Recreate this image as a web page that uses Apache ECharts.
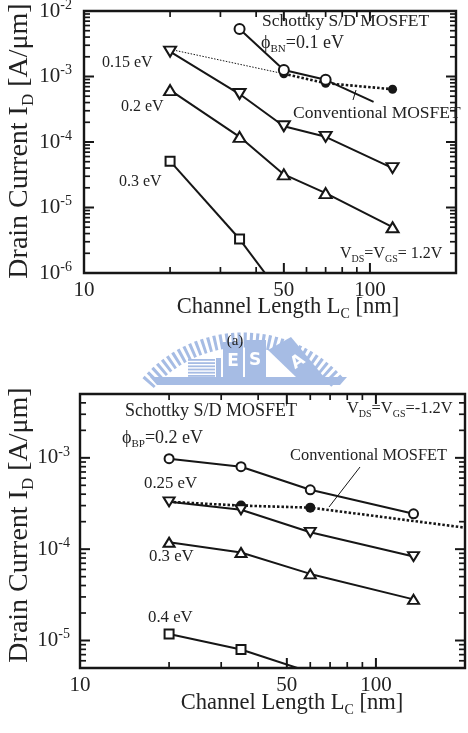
<!DOCTYPE html>
<html><head><meta charset="utf-8">
<script src="https://cdn.jsdelivr.net/npm/echarts@6/dist/echarts.min.js"></script>
<style>html,body{margin:0;padding:0;background:#fff}#c{width:468px;height:733px}</style>
</head><body><div id="c"></div>
<script>
const FONT = '"Liberation Serif","Times New Roman",serif';
const INK = '#161616';
const TXT = '#222';

// ---------- shared x axis (Channel Length, nm, log) ----------
const xLabelValues = [10, 50, 100];
const xMajorTicks = [50, 100];
const xMinorTicks = [20, 30, 40, 60, 70, 80, 90];

// ---------- (a) top chart: n-type, I_D vs L_C ----------
const topYLabelValues = [1e-6, 1e-5, 1e-4, 1e-3, 1e-2];
const topN010 = [[35, 5.3e-3], [50, 1.26e-3], [70, 8.9e-4]];
const topN010Ext = [[70, 8.9e-4], [103, 4.1e-4]];
const topN015 = [[20, 2.4e-3], [35, 5.4e-4], [50, 1.74e-4], [70, 1.2e-4], [120, 4.0e-5]];
const topN020 = [[20, 6.2e-4], [35, 1.2e-4], [50, 3.2e-5], [70, 1.66e-5], [120, 5.0e-6]];
const topN030 = [[20, 5.1e-5], [35, 3.3e-6]];
const topN030Ext = [[35, 3.3e-6], [50, 4.1e-7]];
const topConvThin = [[20, 2.6e-3], [50, 1.1e-3]];
const topConv = [[50, 1.1e-3], [70, 7.9e-4], [120, 6.4e-4]];

// ---------- bottom chart: p-type ----------
const botYLabelValues = [1e-5, 1e-4, 1e-3];
const botP020 = [[20, 9.8e-4], [35, 8.0e-4], [60, 4.47e-4], [134, 2.44e-4]];
const botP025 = [[20, 3.3e-4], [35, 2.7e-4], [60, 1.53e-4], [134, 8.3e-5]];
const botP030 = [[20, 1.19e-4], [35, 9.2e-5], [60, 5.36e-5], [134, 2.82e-5]];
const botP040 = [[20, 1.18e-5], [35, 7.97e-6]];
const botP040Ext = [[35, 7.97e-6], [60, 4.5e-6]];
const botConvLine = [[20, 3.3e-4], [35, 3.0e-4], [60, 2.85e-4], [200, 1.72e-4]];
const botConvMarked = [[35, 3.0e-4], [60, 2.85e-4]];

const GRIDS = [
  { xMin: 10, xMax: 200, yMin: 1e-6, yMax: 1e-2, yLabels: topYLabelValues, left: 84, top: 11, width: 372, height: 262 },
  { xMin: 10, xMax: 200, yMin: 5e-6, yMax: 5e-3, yLabels: botYLabelValues, left: 80, top: 394, width: 385, height: 274 }
];

function minorDecades(lo, hi) {
  const out = [];
  for (let d = -7; d <= -1; d++) for (let m = 2; m <= 9; m++) {
    const v = m * Math.pow(10, d);
    if (v > lo * 1.0001 && v < hi * 0.9999) out.push(v);
  }
  return out;
}

const supFmt = v => '{b|10}{s|' + Math.round(Math.log10(v)) + '}';

function xAxis(gi, lm) {
  const g = GRIDS[gi];
  return { gridIndex: gi, type: 'log', logBase: 10, min: g.xMin, max: g.xMax, position: 'bottom',
    splitLine: { show: false }, minorTick: { show: false }, axisTick: { show: false },
    axisLine: { show: false, onZero: false },
    axisLabel: { show: true, customValues: xLabelValues, margin: lm, fontSize: 21, fontFamily: FONT, color: TXT } };
}
function yAxis(gi, lm) {
  const g = GRIDS[gi];
  return { gridIndex: gi, type: 'log', logBase: 10, min: g.yMin, max: g.yMax, position: 'left',
    splitLine: { show: false }, minorTick: { show: false }, axisTick: { show: false },
    axisLine: { show: false, onZero: false },
    axisLabel: { show: true, customValues: g.yLabels, margin: lm, formatter: supFmt,
      rich: { b: { fontSize: 21, fontFamily: FONT, color: TXT, lineHeight: 26 },
              s: { fontSize: 14, fontFamily: FONT, color: TXT, lineHeight: 14, verticalAlign: 'top' } } } };
}

function ser(gi, data, o) {
  return {
    type: 'line', xAxisIndex: gi, yAxisIndex: gi, data: data,
    symbol: o.symbol || 'none', symbolSize: o.size || 10, symbolRotate: o.rot || 0,
    showSymbol: !!o.symbol, showAllSymbol: true,
    lineStyle: { color: INK, width: o.lw == null ? 2 : o.lw, type: o.ltype || 'solid' },
    itemStyle: { color: o.fill || '#fff', borderColor: INK, borderWidth: o.bw == null ? 2 : o.bw },
    emphasis: { disabled: true }, silent: true, animation: false, clip: true, z: o.z || 3
  };
}

function rt(x, y, parts, size, opt) {
  opt = opt || {};
  const subSize = Math.round(size * 0.62);
  const lh = Math.round(size * 1.25);
  return {
    type: 'text', x: x, y: y, rotation: opt.rot || 0, z: 10, silent: true,
    style: {
      text: parts, fill: TXT, fontSize: size, fontFamily: FONT,
      align: opt.align || 'left', textAlign: opt.align || 'left',
      verticalAlign: 'middle', textVerticalAlign: 'middle',
      rich: {
        a: { fontSize: size, fontFamily: FONT, fill: TXT, lineHeight: lh },
        s: { fontSize: subSize, fontFamily: FONT, fill: TXT, lineHeight: subSize, verticalAlign: 'bottom' }
      }
    }
  };
}

const WM = '#a6bce4';
const watermark = [
  { type: 'arc', z: 0, silent: true, shape: { cx: 243, cy: 466, r: 126, startAngle: 3.86, endAngle: 5.57, clockwise: true },
    style: { stroke: WM, lineWidth: 15, fill: null, lineDash: [3, 3] } },
  { type: 'polygon', z: 1, silent: true, shape: { points: [[150, 377], [347, 377], [340, 385], [157, 385]] }, style: { fill: WM } },
  { type: 'rect', z: 1, silent: true, shape: { x: 223, y: 342, width: 20, height: 35 }, style: { fill: WM } },
  { type: 'rect', z: 1, silent: true, shape: { x: 245, y: 340, width: 21, height: 37 }, style: { fill: WM } },
  { type: 'polygon', z: 1, silent: true, shape: { points: [[268, 350], [291, 337], [324, 377], [296, 377]] }, style: { fill: WM } },
  { type: 'text', z: 2, silent: true, x: 233, y: 362, style: { text: 'E', fill: '#fff', fontSize: 17, fontFamily: 'DejaVu Sans', fontWeight: 'bold', align: 'center', verticalAlign: 'middle', textAlign: 'center', textVerticalAlign: 'middle' } },
  { type: 'text', z: 2, silent: true, x: 255, y: 361, style: { text: 'S', fill: '#fff', fontSize: 17, fontFamily: 'DejaVu Sans', fontWeight: 'bold', align: 'center', verticalAlign: 'middle', textAlign: 'center', textVerticalAlign: 'middle' } },
  { type: 'text', z: 2, silent: true, x: 298, y: 362, rotation: 0.6, style: { text: 'A', fill: '#fff', fontSize: 17, fontFamily: 'DejaVu Sans', fontWeight: 'bold', align: 'center', verticalAlign: 'middle', textAlign: 'center', textVerticalAlign: 'middle' } }
];
for (let i = 0; i < 6; i++) {
  watermark.push({ type: 'rect', z: 1, silent: true, shape: { x: 188, y: 359 + i * 3.2, width: 27, height: 1.8 }, style: { fill: WM } });
}
watermark.push({ type: 'rect', z: 1, silent: true, shape: { x: 216, y: 358, width: 5, height: 19 }, style: { fill: WM } });

const texts = [
  rt(20, 141, '{a|Drain Current I}{s|D}{a| [A/μm]}', 28, { rot: Math.PI / 2, align: 'center' }),
  rt(288, 307, '{a|Channel Length L}{s|C}{a| [nm]}', 22.5, { align: 'center' }),
  rt(262, 21, '{a|Schottky S/D MOSFET}', 17.5),
  rt(261, 43, '{a|ϕ}{s|BN}{a|=0.1 eV}', 18),
  rt(293, 113, '{a|Conventional MOSFET}', 17.5),
  rt(340, 254, '{a|V}{s|DS}{a|=V}{s|GS}{a|= 1.2V}', 16),
  rt(102, 63, '{a|0.15 eV}', 16),
  rt(121, 107, '{a|0.2 eV}', 16),
  rt(119, 182, '{a|0.3 eV}', 16),
  rt(235, 341, '{a|(a)}', 15, { align: 'center' }),
  rt(20, 525, '{a|Drain Current I}{s|D}{a| [A/μm]}', 28, { rot: Math.PI / 2, align: 'center' }),
  rt(292, 703, '{a|Channel Length L}{s|C}{a| [nm]}', 22.5, { align: 'center' }),
  rt(125, 411, '{a|Schottky S/D MOSFET}', 18),
  rt(122, 438, '{a|ϕ}{s|BP}{a|=0.2 eV}', 18),
  rt(290, 456, '{a|Conventional MOSFET}', 16.4),
  rt(347, 409, '{a|V}{s|DS}{a|=V}{s|GS}{a|=-1.2V}', 16.4),
  rt(144, 484, '{a|0.25 eV}', 16.8),
  rt(149, 557, '{a|0.3 eV}', 16.8),
  rt(148, 618, '{a|0.4 eV}', 16.8)
];
const pointers = [
  { type: 'line', z: 10, silent: true, shape: { x1: 353, y1: 100, x2: 356, y2: 90 }, style: { stroke: INK, lineWidth: 1 } },
  { type: 'line', z: 10, silent: true, shape: { x1: 360, y1: 467, x2: 329, y2: 507 }, style: { stroke: INK, lineWidth: 1 } }
];

const seriesList = [
  ser(0, topConvThin, { lw: 1, ltype: [1.5, 1.5], z: 2 }),
  ser(0, topConv, { symbol: 'circle', size: 9, fill: INK, bw: 0, lw: 2.6, ltype: [2.5, 2], z: 2 }),
  ser(0, topN010Ext, {}),
  ser(0, topN010, { symbol: 'circle', size: 10 }),
  ser(0, topN015, { symbol: 'triangle', size: [12, 10], rot: 180 }),
  ser(0, topN020, { symbol: 'triangle', size: [12, 10] }),
  ser(0, topN030Ext, {}),
  ser(0, topN030, { symbol: 'rect', size: 9 }),
  ser(1, botConvLine, { lw: 2.6, ltype: [2.5, 2], z: 2 }),
  Object.assign(ser(1, botConvMarked, { symbol: 'circle', size: 10, fill: INK, bw: 0, z: 2 }), { lineStyle: { width: 0, opacity: 0 } }),
  ser(1, botP020, { symbol: 'circle', size: 9 }),
  ser(1, botP025, { symbol: 'triangle', size: [11, 9], rot: 180 }),
  ser(1, botP030, { symbol: 'triangle', size: [11, 9] }),
  ser(1, botP040Ext, {}),
  ser(1, botP040, { symbol: 'rect', size: 9 })
];

const chart = echarts.init(document.getElementById('c'), null, { renderer: 'canvas' });
chart.setOption({
  backgroundColor: '#fff',
  animation: false,
  grid: GRIDS.map(g => ({ left: g.left, top: g.top, width: g.width, height: g.height, containLabel: false, outerBoundsMode: 'none',
    show: true, borderColor: INK, borderWidth: 2.4, backgroundColor: 'transparent' })),
  xAxis: [xAxis(0, 7), xAxis(1, 7)],
  yAxis: [yAxis(0, 12), yAxis(1, 10)],
  series: seriesList
});

// tick marks on all four sides, positioned through the axes' own scales
const ticks = [];
function tk(x1, y1, x2, y2, w) {
  ticks.push({ type: 'line', z: 20, silent: true, shape: { x1: x1, y1: y1, x2: x2, y2: y2 }, style: { stroke: INK, lineWidth: w } });
}
GRIDS.forEach(function (g, gi) {
  const f = { gridIndex: gi };
  const L = g.left, T = g.top, R = g.left + g.width, B = g.top + g.height;
  const xt = xMajorTicks.map(v => [v, 10]).concat(xMinorTicks.map(v => [v, 6]));
  xt.forEach(function (t) {
    const x = chart.convertToPixel(f, [t[0], g.yMin])[0];
    const w = t[1] > 7 ? 2 : 1.7;
    tk(x, B, x, B - t[1], w);
    tk(x, T, x, T + t[1], w);
  });
  const yt = g.yLabels.map(v => [v, 10]).concat(minorDecades(g.yMin, g.yMax).map(v => [v, 6]));
  yt.forEach(function (t) {
    const y = chart.convertToPixel(f, [g.xMin, t[0]])[1];
    const w = t[1] > 7 ? 2 : 1.7;
    tk(L, y, L + t[1], y, w);
    tk(R, y, R - t[1], y, w);
  });
});
chart.setOption({ graphic: watermark.concat(texts, pointers, ticks) });
</script>
</body></html>
